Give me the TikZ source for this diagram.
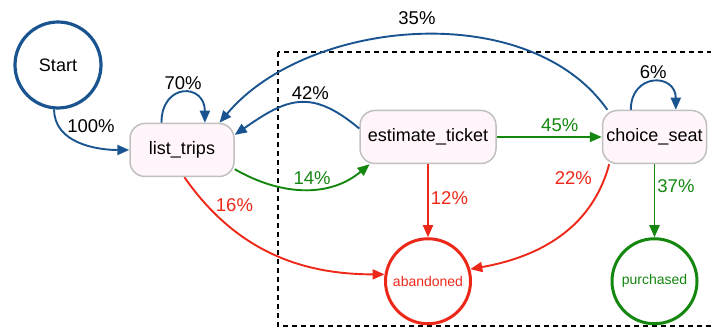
\documentclass[tikz,border=0pt]{standalone}
\usepackage{fontspec}
\setmainfont{Liberation Sans}
\usetikzlibrary{arrows.meta}
\usetikzlibrary{positioning}
\definecolor{flowblue}{RGB}{26,84,144}
\definecolor{flowred}{RGB}{238,40,24}
\definecolor{flowgreen}{RGB}{20,135,15}
\definecolor{boxgray}{RGB}{192,192,192}
\definecolor{boxpink}{RGB}{255,245,250}
\tikzset{
  stepnode/.style={
    draw=boxgray, fill=boxpink,
    line width=1.5pt,
    rounded corners=15pt,
    minimum height=53pt,
    font=\fontsize{18}{20}\selectfont
  },
  endnode/.style={
    circle,
    line width=3pt,
    minimum size=85pt,
    font=\fontsize{14}{16}\selectfont
  },
  flowarrow/.style={
    line width=1.9pt,
    -{Triangle[length=12pt,width=10pt]}
  },
  pct/.style={font=\fontsize{18.5}{20}\selectfont, inner sep=2pt}
}

\begin{document}
\begin{tikzpicture}[x=1pt,y=1pt]
\useasboundingbox (0,0) rectangle (711,331);

% Funnel frame
\draw[line width=2.6pt, dash pattern=on 5pt off 4pt] (278,279) rectangle (716,5);

% States
\node [circle,
    draw=flowblue,
    line width=3.2pt,
    minimum size=86pt,
    font=\fontsize{18}{20}\selectfont
] (start) at (58,266) {Start};

\node [stepnode,
    minimum width=104pt
] (trips) at (182,181) {list\_trips};

\node [stepnode,
    minimum width=136pt
] (estimate) at (428,194) {estimate\_ticket};

\node [stepnode,
    minimum width=104pt,
    right=105pt of estimate
] (seat) {choice\_seat};

\node [endnode,
    draw=flowred, text=flowred,
    below=73pt of estimate
] (abandoned) {abandoned};

\node [endnode,
    draw=flowgreen, text=flowgreen,
    below=73pt of seat
] (purchased) {purchased};

% Transitions
\draw[flowarrow, flowblue] (start.265) to[out=-90, in=180]
    node[pct, pos=0.35, above right, xshift=-3pt, text=black] {100\%} (trips.west);

\draw[flowarrow, flowblue] (trips.127) to[out=90, in=90, distance=40pt]
    node[pct, midway, above, text=black] {70\%} (trips.50);

\draw[flowarrow, flowgreen] (trips.-20) to[out=-30, in=-140]
    node[pct, midway, above, xshift=8pt, yshift=2pt] {14\%} (estimate.205);

\draw[flowarrow, flowblue] (estimate.173) to[out=140, in=35, looseness=1.3]
    node[pct, midway, above, xshift=12pt, text=black] {42\%} (trips.16);

\draw[flowarrow, flowblue] (seat.150) to[out=125, in=50, looseness=0.9]
    node[pct, midway, above=7pt, text=black] {35\%} (trips.36);

\draw[flowarrow, flowgreen] (estimate) --
    node[pct, pos=0.6, above, yshift=2pt] {45\%} (seat);

\draw[flowarrow, flowblue] (seat.131) to[out=90, in=90, distance=37pt]
    node[pct, midway, above, text=black] {6\%} (seat.52);

\draw[flowarrow, flowred] (estimate) --
    node[pct, midway, right, yshift=3pt] {12\%} (abandoned);

\draw[flowarrow, flowred] (trips.-85) to[out=-55, in=180]
    node[pct, pos=0.2, above right, xshift=-3pt] {16\%} (abandoned.171);

\draw[flowarrow, flowred] (seat.211) to[out=-105, in=10]
    node[pct, pos=0.1, left=8pt, yshift=5pt] {22\%} (abandoned.16);

\draw[flowarrow, flowgreen] (seat) --
    node[pct, pos=0.3, right] {37\%} (purchased);

\end{tikzpicture}
\end{document}
